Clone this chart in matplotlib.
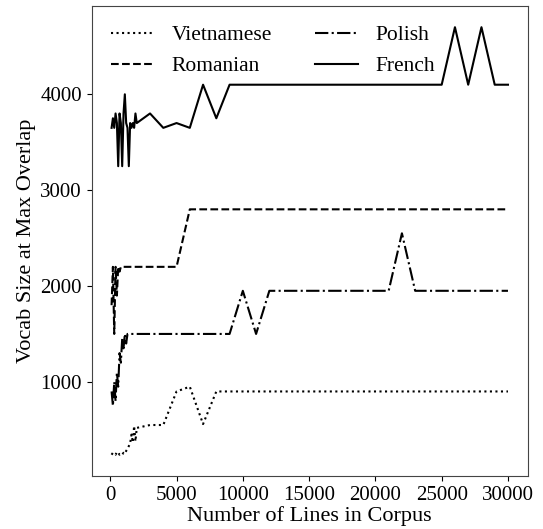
import matplotlib
matplotlib.use("Agg")
import matplotlib.pyplot as plt

# ============================================================
# DATA
# ============================================================

# corpus sizes: step 100 up to 2000, then step 1000 up to 30000
LINES_DENSE = list(range(100, 2001, 100))
LINES_COARSE = list(range(3000, 30001, 1000))
LINES = LINES_DENSE + LINES_COARSE

vietnamese = [
    240, 260, 250, 240, 270, 260, 240, 250, 240, 260,
    250, 280, 300, 330, 360, 450, 370, 540, 380, 520,
    550, 550, 900, 950, 560, 900, 900, 900, 900, 900,
    900, 900, 900, 900, 900, 900, 900, 900, 900, 900,
    900, 900, 900, 900, 900, 900, 900, 900,
]

romanian = [
    1800, 2200, 1500, 2200, 1900, 2200, 2150, 2200, 2200, 2200,
    2200, 2200, 2200, 2200, 2200, 2200, 2200, 2200, 2200, 2200,
    2200, 2200, 2200, 2800, 2800, 2800, 2800, 2800, 2800, 2800,
    2800, 2800, 2800, 2800, 2800, 2800, 2800, 2800, 2800, 2800,
    2800, 2800, 2800, 2800, 2800, 2800, 2800, 2800,
]

polish = [
    900, 750, 1000, 800, 1100, 950, 1300, 1200, 1450, 1350,
    1500, 1400, 1500, 1500, 1500, 1500, 1500, 1500, 1500, 1500,
    1500, 1500, 1500, 1500, 1500, 1500, 1500, 1950, 1500, 1950,
    1950, 1950, 1950, 1950, 1950, 1950, 1950, 1950, 1950, 2550,
    1950, 1950, 1950, 1950, 1950, 1950, 1950, 1950,
]

french = [
    3650, 3750, 3650, 3800, 3700, 3250, 3800, 3700, 3250, 3800,
    4000, 3700, 3650, 3250, 3700, 3650, 3700, 3650, 3800, 3700,
    3800, 3650, 3700, 3650, 4100, 3750, 4100, 4100, 4100, 4100,
    4100, 4100, 4100, 4100, 4100, 4100, 4100, 4100, 4100, 4100,
    4100, 4100, 4100, 4700, 4100, 4700, 4100, 4100,
]

SERIES = [
    ("Vietnamese", vietnamese, ":"),
    ("Romanian", romanian, "--"),
    ("Polish", polish, "-."),
    ("French", french, "-"),
]

# ============================================================
# PLOT
# ============================================================

plt.rcParams["font.family"] = ["Liberation Serif", "DejaVu Serif"]
plt.rcParams["font.size"] = 15

fig = plt.figure(figsize=(5.43, 5.29), dpi=100)
ax = fig.add_axes([0.169, 0.100, 0.803, 0.889])

for name, values, style in SERIES:
    ax.plot(LINES, values, linestyle=style, color="black",
            linewidth=1.5, label=name)

ax.set_xlabel("Number of Lines in Corpus", fontsize=16, labelpad=1)
ax.set_ylabel("Vocab Size at Max Overlap", fontsize=16, labelpad=3)
ax.set_xticks([0, 5000, 10000, 15000, 20000, 25000, 30000])
ax.set_yticks([1000, 2000, 3000, 4000])
ax.tick_params(labelsize=15)

for spine in ax.spines.values():
    spine.set_color("#444444")

ax.legend(loc="upper left", ncol=2, frameon=False, fontsize=15.5,
          handlelength=2.0, handletextpad=0.8, columnspacing=2.0)

fig.savefig("out.png", dpi=100)
